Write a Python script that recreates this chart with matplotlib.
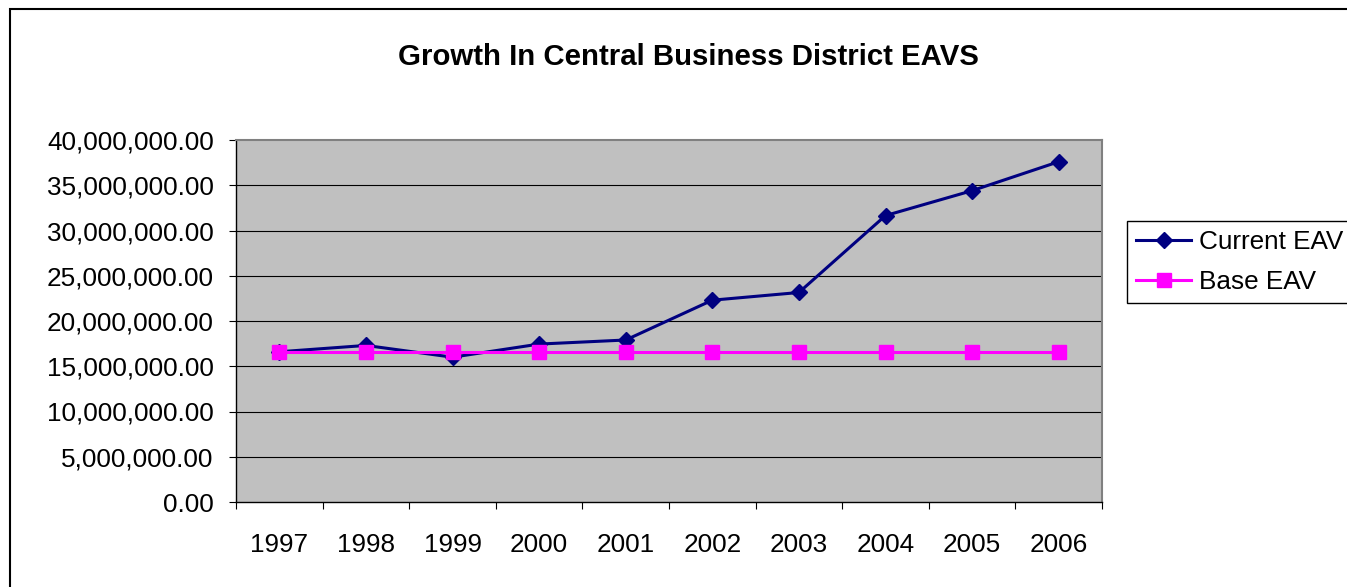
import numpy as np
import matplotlib
matplotlib.use('Agg')
import matplotlib.pyplot as plt
from matplotlib.patches import Rectangle
from matplotlib.ticker import FuncFormatter, FixedLocator

plt.rcParams['font.family'] = ['Liberation Sans', 'DejaVu Sans']

years = ['1997', '1998', '1999', '2000', '2001', '2002', '2003', '2004', '2005', '2006']
current_eav = [16.6e6, 17.3e6, 16.0e6, 17.45e6, 17.9e6, 22.3e6, 23.15e6, 31.65e6, 34.4e6, 37.6e6]
base_eav = [16.6e6] * 10

W, H = 1347, 587
fig = plt.figure(figsize=(W / 100, H / 100), dpi=100)
ax = fig.add_axes([236 / W, 1 - 502 / H, (1102 - 236) / W, (502 - 140) / H])
ax.set_facecolor('#C0C0C0')

x = np.arange(len(years))
ax.plot(x, current_eav, color='#000080', lw=2.2, marker='D', ms=8.5,
        label='Current EAV', zorder=3)
ax.plot(x, base_eav, color='#FF00FF', lw=2.2, marker='s', ms=10.5,
        label='Base EAV', zorder=4)

ax.set_xlim(-0.5, len(years) - 0.5)
ax.set_ylim(0, 40e6)

# y axis
ax.set_yticks(np.arange(0, 40e6 + 1, 5e6))
ax.yaxis.set_major_formatter(FuncFormatter(lambda v, p: '{:,.2f}'.format(v)))
ax.tick_params(axis='y', length=5, width=0.8, pad=11, labelsize=18.8, direction='out')
for v in np.arange(5e6, 40e6, 5e6):
    ax.axhline(v, color='black', lw=0.8, zorder=1)

# x axis: ticks between categories, labels at centers
ax.xaxis.set_major_locator(FixedLocator(np.arange(-0.5, len(years), 1.0)))
ax.xaxis.set_minor_locator(FixedLocator(x))
ax.set_xticklabels([], minor=False)
ax.set_xticklabels(years, minor=True)
ax.tick_params(axis='x', which='major', length=5, width=0.8, direction='out')
ax.tick_params(axis='x', which='minor', length=0, pad=22.5, labelsize=18.8)

for s in ['top', 'right']:
    ax.spines[s].set_color('#808080')
    ax.spines[s].set_linewidth(1.5)
for s in ['left', 'bottom']:
    ax.spines[s].set_color('black')
    ax.spines[s].set_linewidth(1.0)

fig.text(688 / W, 1 - 57 / H, 'Growth In Central Business District EAVS',
         ha='center', va='center', fontsize=21.2, fontweight='bold')

fig.legend(loc='upper left', bbox_to_anchor=(1127 / W, 1 - 221 / H),
           frameon=True, fancybox=False, edgecolor='black', framealpha=1,
           borderaxespad=0, fontsize=18.8, handlelength=2.1, handletextpad=0.3,
           borderpad=0.35, labelspacing=0.62)

# outer chart border
fig.add_artist(Rectangle((10 / W, -0.1), 1.2, 1.1 - 9 / H, transform=fig.transFigure,
                         fill=False, edgecolor='black', lw=1.5, clip_on=False))

fig.savefig('out.png', dpi=100)
